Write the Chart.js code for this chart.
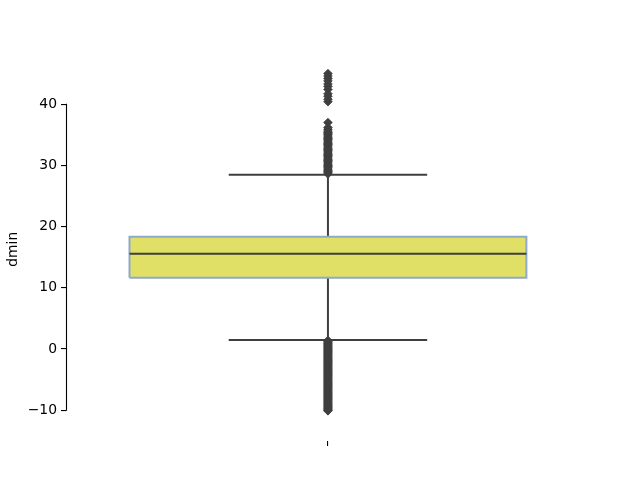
<!DOCTYPE html>
<html>
<head>
<meta charset="utf-8">
<script src="https://cdn.jsdelivr.net/npm/chart.js@4"></script>
<style>
  html, body { margin: 0; padding: 0; background: #ffffff; }
  #c { display: block; }
</style>
</head>
<body>
<canvas id="c" width="640" height="480"></canvas>
<script>
// ---- data ----
const categories = ['dmin'];
const q1 = [11.65];
const median = [15.57];
const q3 = [18.35];
const whiskerLow = [1.47];
const whiskerHigh = [28.48];
const outliersHigh = [28.6, 28.8, 29.0, 29.2, 29.4, 29.6, 29.8, 30.0, 30.2, 30.4, 30.6, 30.8,
  31.0, 31.2, 31.4, 31.6, 31.8, 32.0, 32.2, 32.4, 32.6, 32.8, 33.0, 33.2, 33.4, 33.6, 33.8,
  34.0, 34.2, 34.4, 34.6, 34.8, 35.0, 35.2, 35.4, 35.6, 35.9, 36.2, 37.0,
  40.4, 40.8, 41.3, 41.7, 42.4, 42.9, 43.3, 43.8, 44.2, 44.6, 45.0];
const outliersLow = [1.4, 1.25, 1.1, 0.95, 0.8, 0.65, 0.5, 0.35, 0.2, 0.05, -0.1, -0.25, -0.4,
  -0.55, -0.7, -0.85, -1.0, -1.15, -1.3, -1.45, -1.6, -1.75, -1.9, -2.05, -2.2, -2.35, -2.5,
  -2.65, -2.8, -2.95, -3.1, -3.25, -3.4, -3.55, -3.7, -3.85, -4.0, -4.15, -4.3, -4.45, -4.6,
  -4.75, -4.9, -5.05, -5.2, -5.35, -5.5, -5.65, -5.8, -5.95, -6.1, -6.25, -6.4, -6.55, -6.7,
  -6.85, -7.0, -7.15, -7.3, -7.45, -7.6, -7.75, -7.9, -8.05, -8.2, -8.35, -8.5, -8.65, -8.8,
  -8.95, -9.1, -9.25, -9.4, -9.55, -9.7, -9.85, -10.0, -10.1];
const yTicks = [-10, 0, 10, 20, 30, 40];
const yLabel = 'dmin';

// ---- styles ----
const BOX_WIDTH = 0.8;
const CAP_WIDTH = 0.4;
const BOX_FILL = '#e0e066';
const BOX_EDGE = '#8ea9c9';
const LINE_DARK = '#3f3f3f';
const FONT = { family: 'DejaVu Sans', size: 13.9 };

const i = 0;
const hb = BOX_WIDTH / 2, hc = CAP_WIDTH / 2;
const outlierPts = outliersHigh.concat(outliersLow).map(v => ({ x: i, y: v }));

const spinePlugin = {
  id: 'trimmedSpine',
  afterDraw(chart) {
    const ys = chart.scales.y;
    const ctx = chart.ctx;
    const x = chart.chartArea.left + 0.5;
    ctx.save();
    ctx.strokeStyle = '#000000';
    ctx.lineWidth = 1.1;
    ctx.beginPath();
    ctx.moveTo(x, ys.getPixelForValue(yTicks[yTicks.length - 1]) - 0.5);
    ctx.lineTo(x, ys.getPixelForValue(yTicks[0]) + 0.5);
    ctx.stroke();
    ctx.restore();
  }
};

new Chart(document.getElementById('c'), {
  type: 'scatter',
  data: {
    datasets: [
      { // outliers
        data: outlierPts,
        pointStyle: 'rectRot',
        pointRadius: 4.3,
        pointBackgroundColor: LINE_DARK,
        pointBorderColor: LINE_DARK,
        pointBorderWidth: 0.8,
        order: 0
      },
      { // median
        data: [{ x: i - hb, y: median[0] }, { x: i + hb, y: median[0] }],
        showLine: true, borderColor: LINE_DARK, borderWidth: 2, pointRadius: 0, order: 1
      },
      { // box outline
        data: [{ x: i - hb, y: q1[0] }, { x: i - hb, y: q3[0] }, { x: i + hb, y: q3[0] },
               { x: i + hb, y: q1[0] }, { x: i - hb, y: q1[0] }],
        showLine: true, borderColor: BOX_EDGE, borderWidth: 2, pointRadius: 0,
        borderJoinStyle: 'miter', order: 2
      },
      { // upper whisker
        data: [{ x: i, y: q3[0] }, { x: i, y: whiskerHigh[0] }],
        showLine: true, borderColor: LINE_DARK, borderWidth: 2, pointRadius: 0, order: 3
      },
      { // lower whisker
        data: [{ x: i, y: q1[0] }, { x: i, y: whiskerLow[0] }],
        showLine: true, borderColor: LINE_DARK, borderWidth: 2, pointRadius: 0, order: 3
      },
      { // upper cap
        data: [{ x: i - hc, y: whiskerHigh[0] }, { x: i + hc, y: whiskerHigh[0] }],
        showLine: true, borderColor: LINE_DARK, borderWidth: 2, pointRadius: 0, order: 3
      },
      { // lower cap
        data: [{ x: i - hc, y: whiskerLow[0] }, { x: i + hc, y: whiskerLow[0] }],
        showLine: true, borderColor: LINE_DARK, borderWidth: 2, pointRadius: 0, order: 3
      },
      { // box fill
        data: [{ x: i - hb, y: q3[0] }, { x: i + hb, y: q3[0] }],
        showLine: true, borderWidth: 0, borderColor: 'rgba(0,0,0,0)', pointRadius: 0,
        fill: { value: q1[0] }, backgroundColor: BOX_FILL, order: 4
      }
    ]
  },
  options: {
    responsive: false,
    animation: false,
    devicePixelRatio: 1,
    layout: { padding: { top: 57.6, right: 64, bottom: 0, left: 0 } },
    plugins: { legend: { display: false }, tooltip: { enabled: false } },
    scales: {
      x: {
        type: 'linear',
        min: -0.528,
        max: 0.5,
        afterFit(s) { s.height = 39; },
        afterBuildTicks(s) { s.ticks = [{ value: i }]; },
        border: { display: false },
        grid: { drawOnChartArea: false, drawTicks: true, tickLength: 5, color: '#000000', lineWidth: 1.1 },
        ticks: { callback: () => '', font: FONT, color: '#000000' }
      },
      y: {
        type: 'linear',
        min: -15.03,
        max: 47.61,
        afterFit(s) { s.width = 66; },
        afterBuildTicks(s) { s.ticks = yTicks.map(v => ({ value: v })); },
        border: { display: false },
        grid: { drawOnChartArea: false, drawTicks: true, tickLength: 5, color: '#000000', lineWidth: 1.1 },
        ticks: {
          padding: 4,
          font: FONT,
          color: '#000000',
          callback: v => String(v).replace('-', '\u2212')
        },
        title: { display: true, text: yLabel, font: FONT, color: '#000000', padding: { top: 5, bottom: 4 } }
      }
    }
  },
  plugins: [spinePlugin]
});
</script>
</body>
</html>
